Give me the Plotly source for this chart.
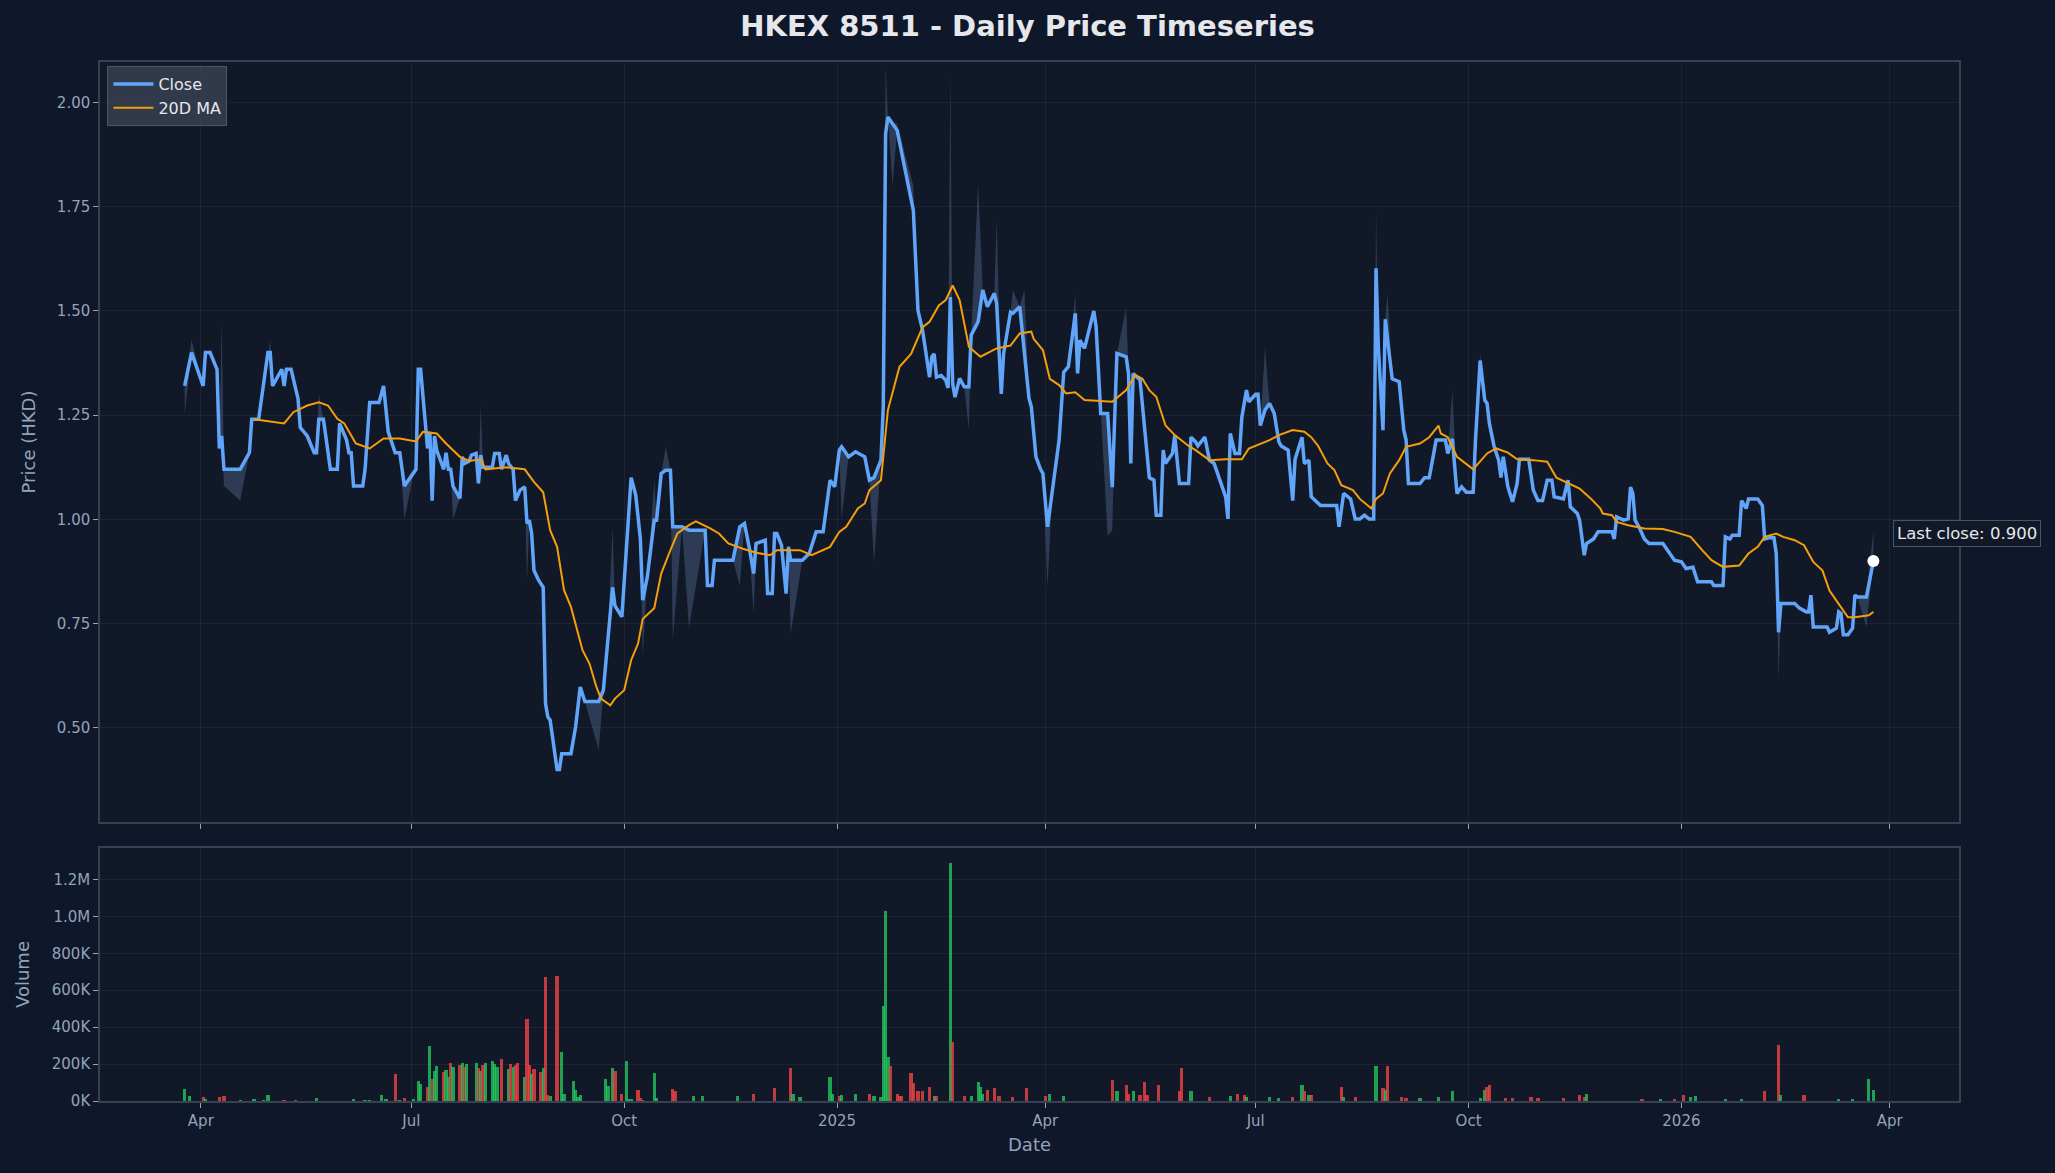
import plotly.graph_objects as go

# ---------------- data ----------------
close_data = """
2024-03-25 1.32|2024-03-28 1.40|2024-04-02 1.32|2024-04-03 1.40|2024-04-05 1.40|2024-04-08 1.36|2024-04-09 1.17|2024-04-10 1.20
2024-04-11 1.12|2024-04-18 1.12|2024-04-22 1.16|2024-04-23 1.24|2024-04-26 1.24|2024-04-30 1.40|2024-05-01 1.40|2024-05-02 1.32
2024-05-06 1.36|2024-05-07 1.32|2024-05-08 1.36|2024-05-10 1.36|2024-05-13 1.29|2024-05-14 1.22|2024-05-17 1.20|2024-05-20 1.16
2024-05-21 1.16|2024-05-22 1.24|2024-05-24 1.24|2024-05-27 1.12|2024-05-30 1.12|2024-05-31 1.23|2024-06-03 1.19|2024-06-04 1.16
2024-06-05 1.16|2024-06-06 1.08|2024-06-10 1.08|2024-06-11 1.12|2024-06-13 1.28|2024-06-17 1.28|2024-06-19 1.32|2024-06-21 1.21
2024-06-24 1.16|2024-06-26 1.16|2024-06-28 1.08|2024-07-02 1.11|2024-07-03 1.12|2024-07-04 1.36|2024-07-05 1.36|2024-07-08 1.17
2024-07-09 1.21|2024-07-10 1.045|2024-07-11 1.20|2024-07-12 1.165|2024-07-15 1.12|2024-07-16 1.16|2024-07-17 1.12|2024-07-18 1.12
2024-07-19 1.08|2024-07-22 1.05|2024-07-23 1.15|2024-07-24 1.134|2024-07-26 1.14|2024-07-27 1.154|2024-07-29 1.158|2024-07-30 1.086
2024-07-31 1.154|2024-08-01 1.125|2024-08-05 1.125|2024-08-06 1.158|2024-08-08 1.158|2024-08-09 1.12|2024-08-11 1.154|2024-08-12 1.134
2024-08-14 1.12|2024-08-15 1.045|2024-08-17 1.07|2024-08-19 1.078|2024-08-20 0.99|2024-08-21 0.998|2024-08-22 0.966|2024-08-23 0.878
2024-08-25 0.854|2024-08-27 0.837|2024-08-28 0.558|2024-08-29 0.526|2024-08-30 0.518|2024-09-02 0.40|2024-09-03 0.40|2024-09-04 0.438
2024-09-08 0.438|2024-09-10 0.502|2024-09-12 0.598|2024-09-14 0.563|2024-09-20 0.563|2024-09-22 0.59|2024-09-24 0.726|2024-09-26 0.837
2024-09-27 0.793|2024-09-30 0.766|2024-10-04 1.10|2024-10-06 1.058|2024-10-08 0.953|2024-10-09 0.806|2024-10-11 0.862|2024-10-14 0.998
2024-10-15 0.998|2024-10-17 1.11|2024-10-19 1.118|2024-10-21 1.118|2024-10-22 0.982|2024-10-26 0.982|2024-10-29 0.974|2024-11-05 0.974
2024-11-06 0.841|2024-11-08 0.841|2024-11-09 0.902|2024-11-17 0.902|2024-11-20 0.982|2024-11-22 0.99|2024-11-24 0.934|2024-11-26 0.87
2024-11-27 0.942|2024-12-01 0.95|2024-12-02 0.822|2024-12-04 0.822|2024-12-05 0.966|2024-12-06 0.966|2024-12-08 0.938|2024-12-10 0.822
2024-12-11 0.934|2024-12-12 0.902|2024-12-17 0.902|2024-12-20 0.918|2024-12-23 0.97|2024-12-26 0.97|2024-12-29 1.094|2024-12-31 1.078
2025-01-02 1.166|2025-01-03 1.174|2025-01-06 1.15|2025-01-09 1.162|2025-01-13 1.15|2025-01-15 1.094|2025-01-17 1.10|2025-01-20 1.142
2025-01-21 1.27|2025-01-22 1.925|2025-01-23 1.965|2025-01-25 1.95|2025-01-27 1.933|2025-02-03 1.741|2025-02-05 1.501|2025-02-07 1.453
2025-02-09 1.381|2025-02-10 1.341|2025-02-11 1.39|2025-02-12 1.397|2025-02-13 1.341|2025-02-15 1.345|2025-02-17 1.334|2025-02-18 1.315
2025-02-19 1.533|2025-02-20 1.325|2025-02-21 1.293|2025-02-23 1.338|2025-02-25 1.318|2025-02-27 1.318|2025-02-28 1.442|2025-03-03 1.474
2025-03-05 1.55|2025-03-07 1.51|2025-03-10 1.542|2025-03-11 1.518|2025-03-13 1.301|2025-03-14 1.397|2025-03-17 1.497|2025-03-18 1.494
2025-03-21 1.51|2025-03-23 1.397|2025-03-25 1.29|2025-03-26 1.27|2025-03-28 1.15|2025-03-30 1.12|2025-03-31 1.11|2025-04-02 0.982
2025-04-04 1.06|2025-04-07 1.19|2025-04-09 1.353|2025-04-11 1.366|2025-04-14 1.494|2025-04-15 1.35|2025-04-16 1.43|2025-04-18 1.41
2025-04-22 1.50|2025-04-23 1.462|2025-04-25 1.254|2025-04-28 1.254|2025-04-30 1.077|2025-05-02 1.398|2025-05-06 1.39|2025-05-07 1.35
2025-05-08 1.134|2025-05-09 1.35|2025-05-12 1.334|2025-05-14 1.206|2025-05-16 1.10|2025-05-18 1.094|2025-05-19 1.01|2025-05-21 1.01
2025-05-22 1.166|2025-05-23 1.134|2025-05-26 1.158|2025-05-27 1.202|2025-05-29 1.086|2025-06-02 1.086|2025-06-03 1.197|2025-06-05 1.186
2025-06-06 1.176|2025-06-09 1.197|2025-06-11 1.142|2025-06-13 1.134|2025-06-15 1.10|2025-06-18 1.054|2025-06-19 1.001|2025-06-20 1.206
2025-06-22 1.158|2025-06-24 1.158|2025-06-25 1.245|2025-06-27 1.31|2025-06-28 1.282|2025-07-01 1.30|2025-07-02 1.30|2025-07-03 1.225
2025-07-05 1.262|2025-07-07 1.278|2025-07-09 1.254|2025-07-11 1.186|2025-07-12 1.176|2025-07-15 1.166|2025-07-17 1.045|2025-07-18 1.144
2025-07-21 1.197|2025-07-22 1.134|2025-07-24 1.142|2025-07-25 1.054|2025-07-29 1.033|2025-08-05 1.033|2025-08-06 0.982|2025-08-08 1.062
2025-08-11 1.049|2025-08-13 1.001|2025-08-15 1.001|2025-08-17 1.01|2025-08-19 1.001|2025-08-21 1.001|2025-08-22 1.602|2025-08-23 1.413
2025-08-25 1.214|2025-08-26 1.48|2025-08-27 1.43|2025-08-29 1.337|2025-09-01 1.33|2025-09-03 1.214|2025-09-04 1.19|2025-09-05 1.086
2025-09-10 1.086|2025-09-12 1.10|2025-09-14 1.10|2025-09-16 1.166|2025-09-17 1.19|2025-09-21 1.19|2025-09-22 1.158|2025-09-24 1.193
2025-09-26 1.062|2025-09-28 1.078|2025-09-30 1.065|2025-10-03 1.065|2025-10-04 1.19|2025-10-06 1.381|2025-10-08 1.286|2025-10-09 1.278
2025-10-10 1.23|2025-10-12 1.176|2025-10-14 1.142|2025-10-15 1.10|2025-10-16 1.15|2025-10-18 1.078|2025-10-20 1.042|2025-10-22 1.086
2025-10-23 1.144|2025-10-27 1.144|2025-10-29 1.07|2025-10-31 1.045|2025-11-02 1.045|2025-11-04 1.094|2025-11-06 1.094|2025-11-07 1.054
2025-11-11 1.049|2025-11-13 1.094|2025-11-14 1.03|2025-11-17 1.014|2025-11-18 0.998|2025-11-20 0.914|2025-11-21 0.942|2025-11-24 0.953
2025-11-26 0.97|2025-12-02 0.97|2025-12-03 0.953|2025-12-04 1.006|2025-12-07 0.998|2025-12-09 1.001|2025-12-10 1.077|2025-12-11 1.062
2025-12-12 0.998|2025-12-14 0.978|2025-12-16 0.953|2025-12-18 0.942|2025-12-24 0.942|2025-12-29 0.902|2026-01-01 0.898|2026-01-03 0.882
2026-01-06 0.885|2026-01-08 0.85|2026-01-14 0.85|2026-01-15 0.841|2026-01-19 0.841|2026-01-20 0.958|2026-01-22 0.953|2026-01-23 0.962
2026-01-26 0.962|2026-01-27 1.045|2026-01-29 1.026|2026-01-30 1.049|2026-02-03 1.049|2026-02-05 1.033|2026-02-06 0.953|2026-02-08 0.956
2026-02-10 0.956|2026-02-11 0.918|2026-02-12 0.729|2026-02-13 0.798|2026-02-19 0.798|2026-02-21 0.787|2026-02-24 0.778|2026-02-25 0.778
2026-02-26 0.818|2026-02-27 0.742|2026-03-05 0.742|2026-03-06 0.729|2026-03-09 0.739|2026-03-10 0.778|2026-03-11 0.774|2026-03-12 0.723
2026-03-14 0.723|2026-03-16 0.739|2026-03-17 0.818|2026-03-18 0.814|2026-03-22 0.814|2026-03-25 0.90
"""

ma_data = """
2024-04-24 1.24|2024-05-01 1.235|2024-05-07 1.23|2024-05-11 1.257|2024-05-17 1.273|2024-05-22 1.281|2024-05-26 1.273|2024-05-30 1.241
2024-06-02 1.23|2024-06-07 1.182|2024-06-13 1.17|2024-06-19 1.194|2024-06-26 1.194|2024-07-03 1.187|2024-07-06 1.21|2024-07-12 1.206
2024-07-16 1.182|2024-07-22 1.15|2024-07-26 1.14|2024-07-31 1.144|2024-08-02 1.12|2024-08-11 1.125|2024-08-19 1.12|2024-08-23 1.09
2024-08-27 1.065|2024-08-30 0.974|2024-09-02 0.934|2024-09-05 0.83|2024-09-08 0.79|2024-09-13 0.686|2024-09-16 0.654|2024-09-19 0.598
2024-09-21 0.57|2024-09-25 0.554|2024-09-27 0.57|2024-10-01 0.59|2024-10-04 0.662|2024-10-07 0.702|2024-10-09 0.761|2024-10-14 0.787
2024-10-17 0.87|2024-10-21 0.926|2024-10-24 0.966|2024-10-29 0.986|2024-11-01 0.995|2024-11-07 0.979|2024-11-11 0.966|2024-11-15 0.942
2024-11-21 0.93|2024-11-27 0.92|2024-12-03 0.914|2024-12-06 0.926|2024-12-16 0.926|2024-12-21 0.914|2024-12-29 0.934|2025-01-02 0.97
2025-01-05 0.982|2025-01-10 1.026|2025-01-13 1.038|2025-01-15 1.07|2025-01-20 1.094|2025-01-23 1.262|2025-01-28 1.366|2025-02-02 1.397
2025-02-07 1.461|2025-02-10 1.474|2025-02-14 1.513|2025-02-17 1.526|2025-02-20 1.561|2025-02-23 1.526|2025-02-27 1.414|2025-03-04 1.39
2025-03-11 1.41|2025-03-17 1.417|2025-03-21 1.446|2025-03-26 1.45|2025-03-27 1.433|2025-03-31 1.406|2025-04-03 1.337|2025-04-07 1.322
2025-04-10 1.302|2025-04-14 1.305|2025-04-18 1.286|2025-04-30 1.282|2025-05-06 1.31|2025-05-10 1.346|2025-05-13 1.337|2025-05-16 1.31
2025-05-19 1.294|2025-05-23 1.225|2025-05-27 1.202|2025-06-02 1.176|2025-06-05 1.166|2025-06-11 1.142|2025-06-18 1.144|2025-06-25 1.144
2025-06-28 1.17|2025-07-07 1.19|2025-07-11 1.202|2025-07-17 1.214|2025-07-22 1.21|2025-07-25 1.197|2025-07-28 1.176|2025-08-01 1.134
2025-08-04 1.118|2025-08-07 1.082|2025-08-12 1.07|2025-08-15 1.049|2025-08-20 1.026|2025-08-22 1.049|2025-08-25 1.062|2025-08-28 1.11
2025-09-01 1.142|2025-09-04 1.174|2025-09-10 1.182|2025-09-14 1.197|2025-09-18 1.225|2025-09-19 1.206|2025-09-22 1.197|2025-09-26 1.15
2025-10-03 1.12|2025-10-09 1.158|2025-10-13 1.17|2025-10-18 1.16|2025-10-22 1.144|2025-10-29 1.142|2025-11-04 1.138|2025-11-08 1.10
2025-11-13 1.086|2025-11-18 1.074|2025-11-23 1.049|2025-11-27 1.026|2025-11-28 1.014|2025-12-02 1.01|2025-12-04 0.994|2025-12-09 0.986
2025-12-16 0.978|2025-12-24 0.977|2025-12-29 0.97|2026-01-05 0.958|2026-01-10 0.926|2026-01-14 0.902|2026-01-19 0.886|2026-01-26 0.889
2026-01-30 0.918|2026-02-03 0.934|2026-02-06 0.958|2026-02-11 0.966|2026-02-14 0.958|2026-02-19 0.95|2026-02-23 0.938|2026-02-27 0.898
2026-03-03 0.877|2026-03-06 0.829|2026-03-09 0.805|2026-03-14 0.765|2026-03-17 0.765|2026-03-23 0.77|2026-03-25 0.778
"""

# intraday high / low excursions (date, high, low) on selected days
range_data = """
2024-03-25 1.32 1.25|2024-03-28 1.43 1.40|2024-04-10 1.475 1.20|2024-04-11 1.12 1.08|2024-04-18 1.12 1.045|2024-05-01 1.43 1.40
2024-05-22 1.30 1.24|2024-06-28 1.08 1.00|2024-07-19 1.08 1.00|2024-07-31 1.273 1.154|2024-08-20 0.99 0.85|2024-09-20 0.563 0.446
2024-09-26 0.982 0.837|2024-10-09 0.806 0.67|2024-10-14 1.094 0.998|2024-10-19 1.174 1.118|2024-10-22 0.982 0.71|2024-10-29 0.974 0.74
2024-11-20 0.982 0.84|2024-11-26 0.87 0.774|2024-12-12 0.902 0.726|2025-01-03 1.174 1.00|2025-01-17 1.10 0.895|2025-01-22 2.09 1.925
2025-01-25 1.95 1.80|2025-01-27 1.95 1.933|2025-02-03 1.80 1.741|2025-02-19 2.085 1.533|2025-02-27 1.318 1.214|2025-03-03 1.805 1.474
2025-03-11 1.718 1.518|2025-03-18 1.55 1.494|2025-03-23 1.55 1.397|2025-04-02 0.982 0.837|2025-04-14 1.54 1.494|2025-04-28 1.254 0.96
2025-04-30 1.077 0.974|2025-05-06 1.508 1.39|2025-07-05 1.413 1.262|2025-08-22 1.746 1.602|2025-08-27 1.54 1.43|2025-09-24 1.31 1.193
2025-10-06 1.40 1.381|2026-02-12 0.729 0.614|2026-03-22 0.814 0.742|2026-03-25 0.974 0.90
"""

# volume: date, shares, direction (u = up day, d = down day)
volume_data = """
2024-03-25 67000 u|2024-03-27 25000 u|2024-04-02 20000 d|2024-04-03 12000 u|2024-04-09 20000 d|2024-04-11 25000 d|2024-04-18 8000 u
2024-04-24 12000 u|2024-04-28 8000 u|2024-04-30 35000 u|2024-05-07 8000 d|2024-05-12 8000 d|2024-05-21 18000 u|2024-06-06 12000 u
2024-06-11 8000 u|2024-06-13 8000 u|2024-06-18 30000 u|2024-06-20 12000 u|2024-06-24 148000 d|2024-06-26 8000 u|2024-06-28 18000 d
2024-07-02 12000 u|2024-07-04 108000 u|2024-07-05 92000 u|2024-07-08 77000 d|2024-07-09 300000 u|2024-07-10 120000 d|2024-07-11 165000 u
2024-07-12 187000 u|2024-07-15 155000 d|2024-07-16 170000 u|2024-07-17 130000 u|2024-07-18 207000 d|2024-07-19 185000 u|2024-07-22 195000 d
2024-07-23 207000 u|2024-07-24 182000 d|2024-07-25 202000 u|2024-07-29 207000 u|2024-07-30 177000 d|2024-07-31 165000 u|2024-08-01 195000 d
2024-08-02 207000 u|2024-08-05 215000 u|2024-08-06 200000 u|2024-08-07 182000 u|2024-08-09 225000 d|2024-08-12 172000 u|2024-08-13 198000 d
2024-08-14 182000 u|2024-08-15 195000 d|2024-08-16 205000 d|2024-08-19 130000 u|2024-08-20 445000 d|2024-08-21 195000 d|2024-08-22 148000 u
2024-08-23 172000 d|2024-08-26 155000 d|2024-08-27 177000 u|2024-08-28 673000 d|2024-08-29 30000 d|2024-08-30 25000 u|2024-09-02 678000 d
2024-09-04 265000 u|2024-09-05 40000 u|2024-09-09 108000 u|2024-09-10 60000 u|2024-09-11 20000 u|2024-09-12 30000 u|2024-09-23 120000 u
2024-09-24 80000 u|2024-09-26 177000 u|2024-09-27 165000 d|2024-09-30 40000 d|2024-10-02 215000 u|2024-10-03 12000 u|2024-10-04 12000 u
2024-10-07 60000 d|2024-10-08 18000 d|2024-10-09 8000 d|2024-10-14 152000 u|2024-10-15 18000 u|2024-10-22 65000 d|2024-10-23 52000 d
2024-10-31 25000 u|2024-11-04 25000 u|2024-11-19 25000 u|2024-11-26 40000 d|2024-12-05 70000 d|2024-12-12 177000 d|2024-12-13 40000 u
2024-12-16 20000 u|2024-12-29 130000 u|2024-12-30 40000 u|2025-01-02 25000 d|2025-01-03 30000 u|2025-01-09 40000 u|2025-01-15 40000 d
2025-01-17 25000 u|2025-01-20 20000 u|2025-01-21 515000 u|2025-01-22 1030000 u|2025-01-23 238000 u|2025-01-24 190000 d|2025-01-27 40000 d
2025-01-28 25000 d|2025-01-29 25000 d|2025-02-02 150000 d|2025-02-03 95000 d|2025-02-05 55000 d|2025-02-07 55000 d|2025-02-10 75000 d
2025-02-12 25000 u|2025-02-13 25000 d|2025-02-19 1290000 u|2025-02-20 321000 d|2025-02-25 25000 d|2025-02-28 25000 u|2025-03-03 105000 u
2025-03-04 75000 u|2025-03-05 40000 u|2025-03-07 60000 d|2025-03-10 70000 d|2025-03-12 25000 d|2025-03-18 20000 d|2025-03-24 70000 d
2025-04-01 25000 d|2025-04-03 40000 u|2025-04-09 25000 u|2025-04-30 112000 d|2025-05-02 55000 u|2025-05-06 85000 d|2025-05-07 40000 d
2025-05-09 55000 u|2025-05-12 30000 d|2025-05-14 105000 d|2025-05-15 30000 d|2025-05-20 85000 d|2025-05-29 55000 d|2025-05-30 177000 d
2025-06-03 55000 u|2025-06-11 20000 d|2025-06-20 25000 u|2025-06-23 40000 d|2025-06-26 30000 d|2025-06-27 20000 u|2025-07-07 20000 u
2025-07-11 15000 u|2025-07-17 20000 d|2025-07-21 85000 u|2025-07-22 55000 d|2025-07-24 30000 u|2025-07-25 35000 d|2025-08-07 75000 d
2025-08-08 20000 u|2025-08-13 20000 d|2025-08-22 191000 u|2025-08-25 70000 d|2025-08-26 60000 u|2025-08-27 191000 d|2025-09-02 20000 d
2025-09-04 15000 d|2025-09-10 15000 u|2025-09-18 20000 u|2025-09-24 55000 u|2025-10-06 15000 u|2025-10-08 60000 u|2025-10-09 75000 d
2025-10-10 85000 d|2025-10-17 15000 d|2025-10-20 15000 d|2025-10-28 20000 d|2025-10-31 15000 d|2025-11-11 15000 d|2025-11-18 30000 d
2025-11-20 20000 d|2025-11-21 40000 u|2025-12-15 12000 d|2025-12-23 12000 u|2025-12-29 12000 d|2026-01-02 30000 d|2026-01-05 20000 u
2026-01-07 25000 u|2026-01-20 10000 u|2026-01-27 10000 u|2026-02-06 55000 d|2026-02-12 303000 d|2026-02-13 30000 u|2026-02-23 35000 d
2026-03-10 12000 u|2026-03-16 10000 u|2026-03-23 117000 u|2026-03-25 60000 u
"""

tick_dates = ["2024-04-01", "2024-07-01", "2024-10-01", "2025-01-01", "2025-04-01",
              "2025-07-01", "2025-10-01", "2026-01-01", "2026-04-01"]
tick_labels = ["Apr", "Jul", "Oct", "2025", "Apr", "Jul", "Oct", "2026", "Apr"]
price_ticks = [0.50, 0.75, 1.00, 1.25, 1.50, 1.75, 2.00]
volume_ticks = [0, 200000, 400000, 600000, 800000, 1000000, 1200000]
volume_tick_labels = ["0K", "200K", "400K", "600K", "800K", "1.0M", "1.2M"]


def parse(block):
    return [item.split() for item in block.replace("\n", "|").split("|") if item.strip()]


close_rows = parse(close_data)
close_dates = [r[0] for r in close_rows]
close_vals = [float(r[1]) for r in close_rows]

ma_rows = parse(ma_data)
ma_dates = [r[0] for r in ma_rows]
ma_vals = [float(r[1]) for r in ma_rows]

range_rows = parse(range_data)
range_map = {r[0]: (float(r[1]), float(r[2])) for r in range_rows}

vol_rows = parse(volume_data)
vol_dates = [r[0] for r in vol_rows]
vol_vals = [float(r[1]) for r in vol_rows]
vol_dir = [r[2] for r in vol_rows]

band_high = [range_map.get(d, (c, c))[0] for d, c in zip(close_dates, close_vals)]
band_low = [range_map.get(d, (c, c))[1] for d, c in zip(close_dates, close_vals)]

# ---------------- styling ----------------
FONT = "DejaVu Sans"
PAPER = "#0f172a"
PLOT = "#111827"
AXIS = "#374151"
GRID = "rgba(148,163,184,0.09)"
TICK = "#94a3b8"
BLUE = "#60a5fa"
ORANGE = "#f59e0b"
UP = "rgba(34,197,94,0.8)"
DOWN = "rgba(239,68,68,0.8)"

W, H = 2055, 1173
ML, MR, MT, MB = 100, 96, 62, 72
plot_h = H - MT - MB
price_bottom = (H - MB - 822) / plot_h
vol_top = (H - MB - 848) / plot_h

fig = go.Figure()

fig.add_trace(go.Scatter(x=close_dates, y=band_high, mode="lines", line=dict(width=0),
                         hoverinfo="skip", showlegend=False, xaxis="x", yaxis="y"))
fig.add_trace(go.Scatter(x=close_dates, y=band_low, mode="lines", line=dict(width=0),
                         fill="tonexty", fillcolor="rgba(120,150,200,0.28)",
                         hoverinfo="skip", showlegend=False, xaxis="x", yaxis="y"))
fig.add_trace(go.Scatter(x=close_dates, y=close_vals, mode="lines", name="Close",
                         line=dict(color=BLUE, width=3.5), xaxis="x", yaxis="y"))
fig.add_trace(go.Scatter(x=ma_dates, y=ma_vals, mode="lines", name="20D MA",
                         line=dict(color=ORANGE, width=2), xaxis="x", yaxis="y"))
fig.add_trace(go.Scatter(x=[close_dates[-1]], y=[close_vals[-1]], mode="markers",
                         marker=dict(color="white", size=12), showlegend=False,
                         xaxis="x", yaxis="y"))

fig.add_trace(go.Bar(x=vol_dates, y=vol_vals,
                     marker=dict(color=[UP if d == "u" else DOWN for d in vol_dir], line=dict(width=0)),
                     width=1.4 * 86400000, showlegend=False, xaxis="x2", yaxis="y2"))

fig.add_annotation(x=close_dates[-1], y=close_vals[-1], xref="x", yref="y",
                   text=f"Last close: {close_vals[-1]:.3f}", showarrow=False,
                   xanchor="left", yanchor="bottom", xshift=20, yshift=14,
                   font=dict(family=FONT, size=16.5, color="#e5e7eb"),
                   bgcolor=PLOT, bordercolor="#475569", borderwidth=1, borderpad=3)

x_range = ["2024-02-17 10:00", "2026-05-01"]
common_x = dict(range=x_range, type="date", tickvals=tick_dates, ticktext=tick_labels,
                showgrid=True, gridcolor=GRID, showline=True, linecolor=AXIS, linewidth=1.5,
                mirror=True, ticks="outside", ticklen=5, tickcolor=TICK, zeroline=False,
                tickfont=dict(family=FONT, size=15, color=TICK))

fig.update_layout(
    width=W, height=H,
    paper_bgcolor=PAPER, plot_bgcolor=PLOT,
    margin=dict(l=ML, r=MR, t=MT, b=MB),
    font=dict(family=FONT, color=TICK),
    title=dict(text="HKEX 8511 - Daily Price Timeseries", x=0.5, xanchor="center",
               y=1 - 26 / H, yanchor="middle", yref="container",
               font=dict(family=FONT, size=29, color="#e5e7eb", weight=700)),
    xaxis=dict(**common_x, domain=[0, 1], anchor="y", showticklabels=False),
    xaxis2=dict(**common_x, domain=[0, 1], anchor="y2", matches="x",
                title=dict(text="Date", standoff=10, font=dict(family=FONT, size=18, color=TICK))),
    yaxis=dict(domain=[price_bottom, 1], range=[0.274, 2.097], tickvals=price_ticks,
               tickformat=".2f", showgrid=True, gridcolor=GRID, showline=True, linecolor=AXIS,
               linewidth=1.5, mirror=True, ticks="outside", ticklen=5, tickcolor=TICK,
               zeroline=False, tickfont=dict(family=FONT, size=15, color=TICK),
               title=dict(text="Price (HKD)", standoff=17, font=dict(family=FONT, size=18, color=TICK))),
    yaxis2=dict(domain=[0, vol_top], range=[0, 1370000], tickvals=volume_ticks,
                ticktext=volume_tick_labels, showgrid=True, gridcolor=GRID, showline=True,
                linecolor=AXIS, linewidth=1.5, mirror=True, ticks="outside", ticklen=5,
                tickcolor=TICK, zeroline=False, tickfont=dict(family=FONT, size=15, color=TICK),
                title=dict(text="Volume", standoff=17, font=dict(family=FONT, size=18, color=TICK))),
    legend=dict(x=0.004, y=0.996, xanchor="left", yanchor="top", traceorder="normal",
                bgcolor="rgba(55,65,81,0.85)", bordercolor="#4b5563", borderwidth=1,
                font=dict(family=FONT, size=16, color="#e5e7eb"), itemwidth=40,
                tracegroupgap=2),
    bargap=0,
    showlegend=True,
)

fig.write_html("out.html",
               config={"displayModeBar": False},
               post_script="document.body.style.margin='0';"
                           "document.body.style.background='#0f172a';"
                           "document.body.style.overflow='hidden';")
